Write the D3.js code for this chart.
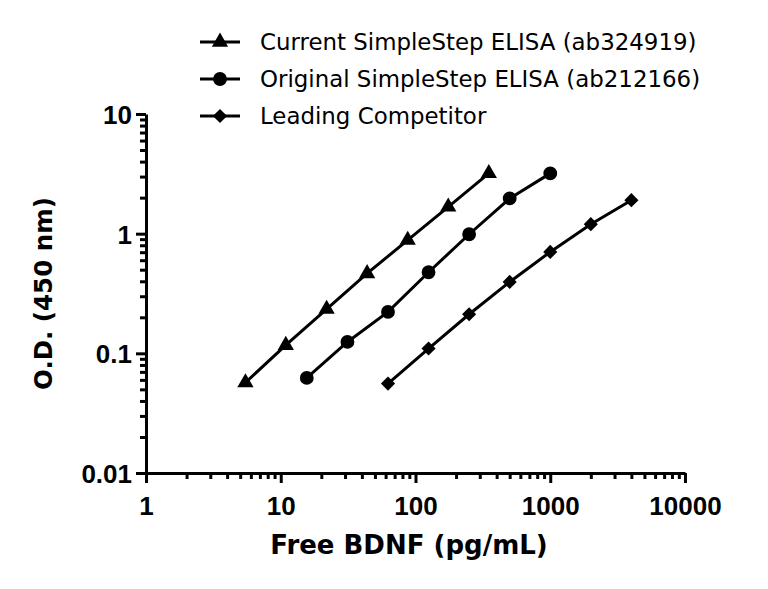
<!DOCTYPE html>
<html lang="en">
<head>
    <meta charset="UTF-8">
    <title>Free BDNF standard curves</title>
    <script src="https://d3js.org/d3.v7.min.js"></script>
    <style>
        body { margin: 0; background: #fff; }
        svg { display: block; }
        .tick-label { font-family: "Liberation Sans", Arial, sans-serif; font-weight: bold; font-size: 26px; }
        .axis-title { font-family: "DejaVu Sans", sans-serif; font-weight: bold; }
        .legend-text { font-family: "DejaVu Sans", sans-serif; font-size: 22.9px; }
    </style>
</head>
<body>
<div id="chart"></div>
<script>
    // concentrations (pg/mL) and O.D.
    const currentX = [5.47, 10.9, 21.9, 43.75, 87.5, 175, 350];
    const currentY = [0.057, 0.117, 0.234, 0.465, 0.883, 1.675, 3.19];

    const originalX = [15.6, 31.25, 62.5, 125, 250, 500, 1000];
    const originalY = [0.0623, 0.1245, 0.222, 0.476, 0.989, 1.97, 3.19];

    const competitorX = [62.5, 125, 250, 500, 1000, 2000, 4000];
    const competitorY = [0.0559, 0.1097, 0.212, 0.395, 0.704, 1.2, 1.905];

    const seriesNames = ["Current SimpleStep ELISA (ab324919)", "Original SimpleStep ELISA (ab212166)", "Leading Competitor"];
    const seriesSymbols = ["triangle", "circle", "diamond"];

    const xTicks = [1, 10, 100, 1000, 10000];
    const xTickLabels = ["1", "10", "100", "1000", "10000"];
    const yTicks = [0.01, 0.1, 1, 10];
    const yTickLabels = ["0.01", "0.1", "1", "10"];

    const width = 768, height = 589;
    const svg = d3.select("#chart").append("svg")
        .attr("width", width)
        .attr("height", height);

    const x = d3.scaleLog().domain([1, 10000]).range([146, 685]);
    const y = d3.scaleLog().domain([0.01, 10]).range([473, 114]);

    // minor ticks 2..9 within each decade
    function minors(ticks) {
        const out = [];
        for (let i = 0; i < ticks.length - 1; i++) {
            for (let k = 2; k <= 9; k++) out.push(ticks[i] * k);
        }
        return out;
    }

    function styleAxis(g) {
        g.selectAll("path.domain").attr("stroke", "#000").attr("stroke-width", 3);
        g.selectAll(".tick line").attr("stroke", "#000").attr("stroke-width", 3);
    }

    // x axis
    const xMinor = svg.append("g")
        .attr("transform", `translate(0,${y(0.01)})`)
        .call(d3.axisBottom(x).tickValues(minors(xTicks)).tickSize(6).tickSizeOuter(0).tickFormat(""));
    styleAxis(xMinor);
    xMinor.selectAll("path.domain").remove();

    const xAxis = svg.append("g")
        .attr("transform", `translate(0,${y(0.01)})`)
        .call(d3.axisBottom(x).tickValues(xTicks).tickSize(10).tickSizeOuter(0)
            .tickFormat((d, i) => xTickLabels[i]));
    styleAxis(xAxis);
    xAxis.selectAll(".tick text")
        .attr("class", "tick-label")
        .attr("fill", "#000")
        .attr("y", 42)
        .attr("dy", null);

    // y axis
    const yMinor = svg.append("g")
        .attr("transform", `translate(${x(1)},0)`)
        .call(d3.axisLeft(y).tickValues(minors(yTicks)).tickSize(6).tickSizeOuter(0).tickFormat(""));
    styleAxis(yMinor);
    yMinor.selectAll("path.domain").remove();

    const yAxis = svg.append("g")
        .attr("transform", `translate(${x(1)},0)`)
        .call(d3.axisLeft(y).tickValues(yTicks).tickSize(10).tickSizeOuter(0)
            .tickFormat((d, i) => yTickLabels[i]));
    styleAxis(yAxis);
    yAxis.selectAll(".tick text")
        .attr("class", "tick-label")
        .attr("fill", "#000")
        .attr("x", -14)
        .attr("dy", "0.36em");

    // axis titles
    svg.append("text")
        .attr("class", "axis-title")
        .attr("x", 409)
        .attr("y", 554)
        .attr("text-anchor", "middle")
        .style("font-size", "26px")
        .text("Free BDNF (pg/mL)");

    svg.append("text")
        .attr("class", "axis-title")
        .attr("transform", `translate(52,${(y(10) + y(0.01)) / 2}) rotate(-90)`)
        .attr("text-anchor", "middle")
        .style("font-size", "24.5px")
        .text("O.D. (450 nm)");

    // series
    const series = [
        {name: seriesNames[0], xs: currentX, ys: currentY, symbol: seriesSymbols[0]},
        {name: seriesNames[1], xs: originalX, ys: originalY, symbol: seriesSymbols[1]},
        {name: seriesNames[2], xs: competitorX, ys: competitorY, symbol: seriesSymbols[2]}
    ];

    const symbolFor = {
        triangle: d3.symbol().type(d3.symbolTriangle).size(115),
        circle: d3.symbol().type(d3.symbolCircle).size(150),
        diamond: d3.symbol().type(d3.symbolSquare).size(100)
    };
    const symbolRotate = {triangle: 0, circle: 0, diamond: 45};

    const line = d3.line()
        .x(d => x(d[0]))
        .y(d => y(d[1]));

    series.forEach(s => {
        const pts = s.xs.map((v, i) => [v, s.ys[i]]);
        svg.append("path")
            .datum(pts)
            .attr("fill", "none")
            .attr("stroke", "#000")
            .attr("stroke-width", 3)
            .attr("d", line);
        svg.append("g").selectAll("path")
            .data(pts)
            .join("path")
            .attr("d", symbolFor[s.symbol])
            .attr("fill", "#000")
            .attr("transform", d => `translate(${x(d[0])},${y(d[1])}) rotate(${symbolRotate[s.symbol]})`);
    });

    // legend
    const legendRows = [42, 79, 116];
    series.forEach((s, i) => {
        const g = svg.append("g").attr("transform", `translate(0,${legendRows[i]})`);
        g.append("line")
            .attr("x1", 200).attr("x2", 240)
            .attr("stroke", "#000").attr("stroke-width", 3);
        g.append("path")
            .attr("d", symbolFor[s.symbol])
            .attr("fill", "#000")
            .attr("transform", `translate(220,0) rotate(${symbolRotate[s.symbol]})`);
        g.append("text")
            .attr("class", "legend-text")
            .attr("x", 260)
            .attr("dy", "0.36em")
            .text(s.name);
    });
</script>
</body>
</html>
